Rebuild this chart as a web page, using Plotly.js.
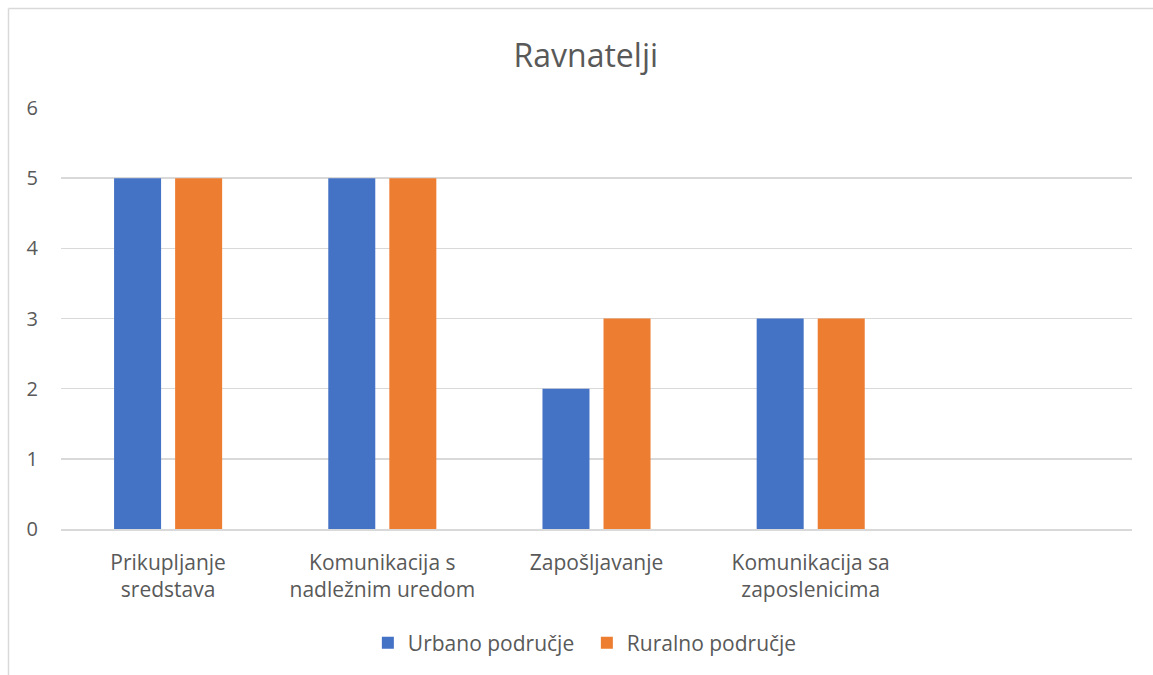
<!DOCTYPE html>
<html>
<head>
<meta charset="utf-8">
<script src="https://cdn.plot.ly/plotly-3.0.1.min.js"></script>
<style>html,body{margin:0;padding:0;background:#fff;}#chart{width:1153px;height:675px;}</style>
</head>
<body>
<div id="chart"></div>
<script>
const categories = ["Prikupljanje<br>sredstava", "Komunikacija s<br>nadležnim uredom", "Zapošljavanje", "Komunikacija sa<br>zaposlenicima", " "];
const urbano = [5, 5, 2, 3, null];
const ruralno = [5, 5, 3, 3, null];
const seriesNames = ["Urbano područje", "Ruralno područje"];
const titleText = "Ravnatelji";

const font = "'Open Sans', sans-serif";
const data = [
  {type: "bar", x: categories, y: urbano, name: seriesNames[0], marker: {color: "#4472C4"}, hoverinfo: "skip"},
  {type: "bar", x: categories, y: ruralno, name: seriesNames[1], marker: {color: "#ED7D31"}, hoverinfo: "skip"}
];
const layout = {
  width: 1153, height: 675,
  margin: {l: 61, r: 21, t: 108, b: 146},
  paper_bgcolor: "#fff", plot_bgcolor: "#fff",
  font: {family: font, color: "#595959", size: 21},
  title: {text: titleText, font: {family: font, size: 32, color: "#595959"}, x: 0.49, xref: "paper", xanchor: "center", y: 0.918, yref: "container", yanchor: "middle"},
  barmode: "group", bargap: 0.43, bargroupgap: 0.23,
  xaxis: {type: "category", showgrid: false, zeroline: false, showline: true, linecolor: "#d9d9d9", linewidth: 1.5, ticks: "", ticklabelstandoff: 14, tickfont: {size: 21, color: "#595959"}, fixedrange: true},
  yaxis: {range: [0, 6], dtick: 1, showgrid: true, gridcolor: "#d9d9d9", gridwidth: 1.5, zeroline: false, showline: false, ticks: "", ticklabelstandoff: 22, tickfont: {size: 20, color: "#595959"}, fixedrange: true},
  legend: {orientation: "h", x: 0.491, xanchor: "center", y: -0.271, yanchor: "middle", font: {size: 21, color: "#595959"}, itemwidth: 30, entrywidth: 174, traceorder: "normal"},
  showlegend: true,
  shapes: [
    {type: "line", xref: "paper", yref: "paper", x0: (8.5-61)/1071, x1: (1153-61)/1071, y0: (529-8.5)/421, y1: (529-8.5)/421, line: {color: "#d9d9d9", width: 1.5}},
    {type: "line", xref: "paper", yref: "paper", x0: (8.5-61)/1071, x1: (8.5-61)/1071, y0: (529-8.5)/421, y1: (529-675)/421, line: {color: "#d9d9d9", width: 1.5}}
  ]
};
Plotly.newPlot("chart", data, layout, {displayModeBar: false, staticPlot: true});
</script>
</body>
</html>
